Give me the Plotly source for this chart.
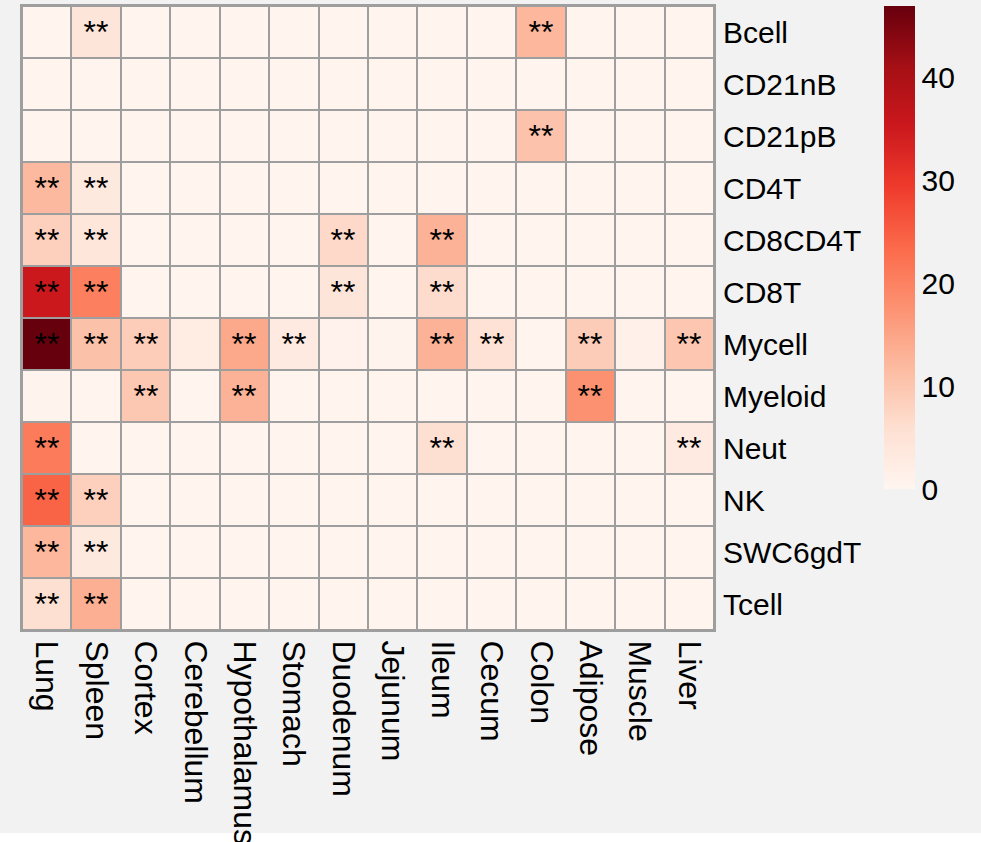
import plotly.graph_objects as go

tissues = ["Lung", "Spleen", "Cortex", "Cerebellum", "Hypothalamus", "Stomach",
           "Duodenum", "Jejunum", "Ileum", "Cecum", "Colon", "Adipose", "Muscle", "Liver"]
cells = ["Bcell", "CD21nB", "CD21pB", "CD4T", "CD8CD4T", "CD8T", "Mycell",
         "Myeloid", "Neut", "NK", "SWC6gdT", "Tcell"]

# enrichment values (rows = cells, cols = tissues)
values = [
    [0.3, 4.6, 0.3, 0.3, 0.3, 0.3, 0.3, 0.3, 0.3, 0.3, 12.3, 0.3, 0.3, 0.3],
    [0.3, 0.3, 0.3, 0.3, 0.3, 0.3, 0.3, 0.3, 0.3, 0.3, 0.3, 0.3, 0.3, 0.3],
    [0.3, 0.3, 0.3, 0.3, 0.3, 0.3, 0.3, 0.3, 0.3, 0.3, 10.6, 0.3, 0.3, 0.3],
    [12.0, 3.4, 0.3, 0.3, 0.3, 0.3, 0.3, 0.3, 0.3, 0.3, 0.3, 0.3, 0.3, 0.3],
    [8.4, 4.2, 0.3, 0.3, 0.3, 0.3, 7.1, 0.3, 13.0, 0.3, 0.3, 0.3, 0.3, 0.3],
    [35.2, 20.4, 0.3, 0.3, 0.3, 0.3, 4.5, 0.3, 6.5, 0.3, 0.3, 0.3, 0.3, 0.3],
    [47.0, 10.8, 8.9, 2.5, 14.5, 3.0, 1.0, 0.5, 13.0, 5.3, 0.3, 9.0, 1.4, 10.0],
    [0.6, 0.3, 9.7, 0.3, 13.0, 0.3, 0.3, 0.3, 0.3, 0.3, 0.3, 17.7, 0.3, 0.3],
    [21.0, 0.3, 0.3, 0.3, 0.3, 0.3, 0.3, 0.3, 5.9, 0.3, 0.3, 0.3, 0.3, 3.0],
    [24.3, 8.4, 0.3, 0.3, 0.3, 0.3, 0.3, 0.3, 0.3, 0.3, 0.3, 0.3, 0.3, 0.3],
    [12.3, 3.4, 0.3, 0.3, 0.3, 0.3, 0.3, 0.3, 0.3, 0.3, 0.3, 0.3, 0.3, 0.3],
    [5.9, 13.5, 0.3, 0.3, 0.3, 0.3, 0.3, 0.3, 0.3, 0.3, 0.3, 0.3, 0.3, 0.3],
]

S = "**"
E = ""
signif = [
    [E, S, E, E, E, E, E, E, E, E, S, E, E, E],
    [E, E, E, E, E, E, E, E, E, E, E, E, E, E],
    [E, E, E, E, E, E, E, E, E, E, S, E, E, E],
    [S, S, E, E, E, E, E, E, E, E, E, E, E, E],
    [S, S, E, E, E, E, S, E, S, E, E, E, E, E],
    [S, S, E, E, E, E, S, E, S, E, E, E, E, E],
    [S, S, S, E, S, S, E, E, S, S, E, S, E, S],
    [E, E, S, E, S, E, E, E, E, E, E, S, E, E],
    [S, E, E, E, E, E, E, E, S, E, E, E, E, S],
    [S, S, E, E, E, E, E, E, E, E, E, E, E, E],
    [S, S, E, E, E, E, E, E, E, E, E, E, E, E],
    [S, S, E, E, E, E, E, E, E, E, E, E, E, E],
]

colorbar_ticks = [0, 10, 20, 30, 40]

reds = ["#FFF5F0", "#FEE0D2", "#FCBBA1", "#FC9272", "#FB6A4A",
        "#EF3B2C", "#CB181D", "#A50F15", "#67000D"]
colorscale = [[i / (len(reds) - 1), c] for i, c in enumerate(reds)]

FONT = "Liberation Sans, Arial, Helvetica, sans-serif"
BORDER = "#9E9E9E"

fig = go.Figure(go.Heatmap(
    x=tissues, y=cells, z=values,
    text=signif, texttemplate="%{text}",
    textfont=dict(size=32, color="black", family=FONT),
    colorscale=colorscale, zmin=0, zmax=47,
    xgap=2, ygap=2, hoverinfo="skip",
    colorbar=dict(
        x=1.246, xanchor="left", y=1.0, yanchor="top",
        len=0.774, lenmode="fraction", thickness=31,
        xpad=0, ypad=0, outlinewidth=0,
        tickvals=colorbar_ticks, ticks="", ticklen=0,
        tickfont=dict(size=30, color="black", family=FONT),
    ),
))

fig.update_layout(
    width=981, height=842,
    margin=dict(l=22, r=267, t=6, b=212, autoexpand=False),
    paper_bgcolor="#F2F2F2",
    plot_bgcolor=BORDER,
    font=dict(family=FONT, color="black"),
    shapes=[dict(type="rect", xref="paper", yref="paper",
                 x0=-0.1, x1=1.5, y0=-0.3254, y1=-0.36,
                 fillcolor="white", line=dict(width=0), layer="below")],
)
fig.update_xaxes(
    tickangle=90, tickfont=dict(size=32, color="black"),
    ticks="outside", ticklen=2, tickcolor="rgba(0,0,0,0)",
    showline=True, mirror=True, linecolor=BORDER, linewidth=2,
    showgrid=False, zeroline=False, fixedrange=True, automargin=False,
)
fig.update_yaxes(
    side="right", autorange="reversed",
    tickfont=dict(size=30, color="black"),
    ticks="outside", ticklen=1, tickcolor="rgba(0,0,0,0)",
    showline=True, mirror=True, linecolor=BORDER, linewidth=2,
    showgrid=False, zeroline=False, fixedrange=True, automargin=False,
)

fig.write_html("out.html", config={"displayModeBar": False},
               post_script="document.body.style.margin='0';")
